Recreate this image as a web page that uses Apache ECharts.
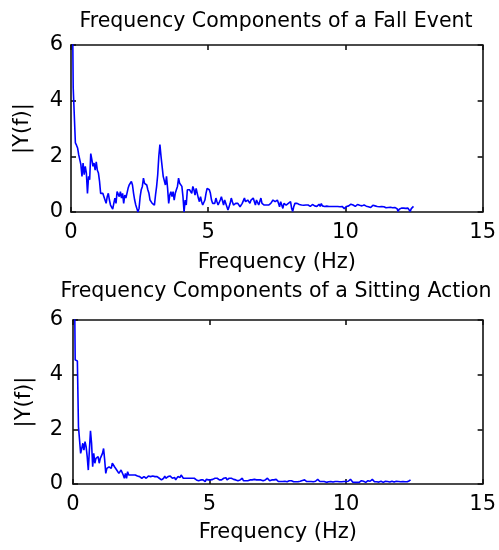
<!DOCTYPE html>
<html><head><meta charset="utf-8">
<script src="https://cdn.jsdelivr.net/npm/echarts@6/dist/echarts.min.js"></script>
<style>html,body{margin:0;padding:0;background:#fff}#c{width:499px;height:550px}</style>
</head><body><div id="c"></div>
<script>
const chartTitles = ['Frequency Components of a Fall Event', 'Frequency Components of a Sitting Action'];
const xAxisLabel = 'Frequency (Hz)';
const yAxisLabel = '|Y(f)|';
const xRange = [0, 15, 5];   // min, max, tick interval
const yRange = [0, 6, 2];
const freqStep = 0.04; // spacing of FFT bins (Hz)

const fallMagnitude = [
12, 9, 4.47, 4.47, 2.48, 2.4, 2.3, 2.06, 2.1, 1.7,
1.28, 1.76, 1.34, 1.64, 1.4, 0.67, 1.28, 1.16, 2.1, 1.88,
1.64, 1.76, 1.5, 1.8, 1.5, 1.4, 1.1, 0.67, 0.61, 0.67,
0.55, 0.5, 0.31, 0.55, 0.67, 0.43, 0.25, 0.19, 0.1, 0.31,
0.5, 0.31, 0.73, 0.67, 0.55, 0.73, 0.5, 0.67, 0.31, 0.61,
0.5, 0.55, 0.85, 0.97, 1.03, 1.1, 0.97, 0.67, 0.43, 0.25,
0.19, 0.0, 0.13, 0.55, 0.8, 0.92, 1.22, 1.03, 1.1, 0.97,
0.8, 0.67, 0.43, 0.37, 0.31, 0.25, 0.25, 0.61, 0.92, 1.34,
2.0, 2.42, 2.0, 1.94, 1.28, 1.22, 0.97, 1.28, 0.85, 0.31,
0.61, 0.73, 0.55, 0.73, 0.43, 0.67, 0.8, 0.92, 1.22, 1.03,
1.1, 0.92, 0.55, 0.0, 0.43, 0.25, 0.8, 0.73, 0.8, 0.85,
0.67, 0.92, 0.8, 0.61, 0.85, 0.67, 0.5, 0.37, 0.55, 0.37,
0.25, 0.19, 0.43, 0.67, 0.85, 0.92, 0.8, 0.67, 0.43, 0.31,
0.25, 0.31, 0.5, 0.37, 0.25, 0.31, 0.43, 0.55, 0.5, 0.25,
0.43, 0.37, 0.19, 0.07, 0.19, 0.31, 0.5, 0.37, 0.25, 0.19,
0.31, 0.37, 0.31, 0.25, 0.19, 0.25, 0.31, 0.37, 0.5, 0.37,
0.31, 0.43, 0.37, 0.31, 0.43, 0.37, 0.5, 0.43, 0.25, 0.43,
0.5, 0.25, 0.31, 0.5, 0.31, 0.25, 0.25, 0.25, 0.25, 0.25,
0.25, 0.25, 0.31, 0.31, 0.43, 0.5, 0.37, 0.43,
0.43, 0.31, 0.19, 0.37, 0.25, 0.13, 0.31, 0.37, 0.25, 0.19, 0.31, 0.25, 0.37,
0.13, 0.02, 0.2,
0.31, 0.33, 0.31, 0.28, 0.27, 0.28, 0.25, 0.25, 0.24, 0.25, 0.25, 0.26, 0.25, 0.22, 0.2, 0.24, 0.27, 0.25, 0.22,
0.25, 0.2, 0.22, 0.28, 0.2, 0.3, 0.22, 0.25, 0.2, 0.23, 0.21,
0.19, 0.2, 0.19, 0.2, 0.2, 0.2, 0.19, 0.2, 0.19, 0.2, 0.2, 0.19, 0.17, 0.2, 0.18, 0.12, 0.05,
0.2, 0.27, 0.22, 0.25, 0.28, 0.22, 0.25, 0.27, 0.2, 0.22, 0.27, 0.22, 0.24, 0.28, 0.22, 0.2, 0.25, 0.24, 0.21, 0.23,
0.19, 0.22, 0.16, 0.2, 0.24, 0.18, 0.22, 0.25, 0.2, 0.2, 0.19, 0.16, 0.2, 0.15, 0.19, 0.17, 0.15, 0.18, 0.16,
0.16, 0.17, 0.16, 0.15, 0.16, 0.16, 0.15, 0.12, 0.02,
0.1, 0.12, 0.14, 0.13, 0.14, 0.12, 0.13, 0.12, 0.14, 0.1, 0.02,
0.12, 0.18, 0.2
];

const sittingMagnitude = [
12, 9, 4.54, 4.54, 4.5, 2.1, 2.04, 1.12, 1.3, 1.49,
1.24, 1.55, 1.37, 1.0, 0.51, 1.24, 1.95, 1.49, 0.63, 1.12,
0.76, 0.94, 0.88, 1.0, 0.76, 0.94, 0.88, 1.12, 1.3, 0.88,
0.39,
0.57, 0.51, 0.63, 0.7, 0.57, 0.76, 0.7, 0.63, 0.57, 0.51, 0.45, 0.39, 0.45, 0.51, 0.45, 0.33, 0.21, 0.39, 0.21, 0.45, 0.33, 0.27, 0.33,
0.27, 0.33, 0.29, 0.33, 0.27, 0.29, 0.33, 0.27, 0.29, 0.21, 0.27, 0.27, 0.33, 0.21, 0.27, 0.29, 0.33, 0.27, 0.21, 0.29,
0.33, 0.27, 0.21, 0.27, 0.27, 0.21, 0.27, 0.15, 0.09, 0.21, 0.29, 0.21, 0.15, 0.27, 0.21, 0.29, 0.33, 0.21, 0.27, 0.24,
0.15, 0.21, 0.27, 0.29, 0.24, 0.33, 0.27, 0.21, 0.27, 0.21, 0.15, 0.21, 0.15, 0.21, 0.15, 0.21, 0.27, 0.21, 0.17, 0.15,
0.15, 0.12, 0.17, 0.15, 0.12, 0.15, 0.15, 0.09, 0.17, 0.21, 0.15, 0.17, 0.15, 0.21, 0.17, 0.15, 0.21, 0.27, 0.21, 0.27,
0.15, 0.09, 0.15, 0.21, 0.21, 0.27, 0.23, 0.15, 0.12, 0.21, 0.15, 0.21, 0.15, 0.17, 0.21, 0.15, 0.21, 0.12, 0.15, 0.15,
0.17, 0.21, 0.12, 0.09, 0.12, 0.15, 0.12, 0.15, 0.15, 0.17, 0.15, 0.15, 0.17, 0.15, 0.15, 0.12, 0.15, 0.17, 0.15, 0.15,
0.12, 0.09, 0.15, 0.17, 0.21, 0.15, 0.12, 0.15, 0.15, 0.17, 0.15, 0.15,
0.17, 0.12, 0.09, 0.08, 0.09, 0.08, 0.09, 0.08, 0.1, 0.09, 0.08, 0.09,
0.12, 0.15, 0.12, 0.09, 0.08, 0.09, 0.08, 0.09,
0.08, 0.09, 0.1, 0.09, 0.13, 0.17, 0.15, 0.12, 0.09, 0.08,
0.09, 0.08, 0.09, 0.09, 0.08, 0.09, 0.1, 0.13, 0.17, 0.12,
0.09, 0.08, 0.09, 0.06, 0.09, 0.08, 0.06, 0.09, 0.08, 0.06, 0.09, 0.08,
0.07, 0.05, 0.09, 0.08, 0.09, 0.09, 0.08, 0.09, 0.08, 0.09, 0.09, 0.08, 0.09, 0.09, 0.1,
0.13, 0.17, 0.12, 0.07, 0.05, 0.06, 0.05, 0.06, 0.05, 0.06,
0.09, 0.12, 0.07, 0.1, 0.12, 0.06, 0.09, 0.12, 0.07, 0.1, 0.13, 0.17, 0.12, 0.08, 0.09,
0.08, 0.1, 0.07, 0.09, 0.1, 0.08, 0.06, 0.09, 0.1, 0.08, 0.09, 0.1, 0.07, 0.09, 0.1, 0.08,
0.07, 0.09, 0.1, 0.08, 0.09, 0.1, 0.08, 0.06, 0.09, 0.1, 0.08, 0.1, 0.08, 0.09, 0.12, 0.15
];

const FONT = 'DejaVu Sans';
const FS = 21;
const txt = {fontFamily: FONT, fontSize: FS, color: '#000'};
const axLine = {color: '#111', width: 1.6};
const grids = [
  {left: 71, right: 12, top: 45, height: 167},
  {left: 73, right: 15, top: 320, height: 164}
];
const xAxes = [], yAxes = [];
grids.forEach((g, gi) => {
  const common = {type: 'value', gridIndex: gi, splitLine: {show: false},
    axisLine: {show: true, onZero: false, lineStyle: axLine},
    axisTick: {show: true, inside: true, length: 5, lineStyle: axLine}};
  xAxes.push(Object.assign({}, common, {position: 'bottom', min: xRange[0], max: xRange[1], interval: xRange[2],
    axisLabel: Object.assign({margin: 10}, txt),
    name: xAxisLabel, nameLocation: 'middle', nameGap: gi === 0 ? 40 : 38, nameTextStyle: txt}));
  xAxes.push(Object.assign({}, common, {position: 'top', min: xRange[0], max: xRange[1], interval: xRange[2],
    axisLabel: {show: false}}));
  yAxes.push(Object.assign({}, common, {position: 'left', min: yRange[0], max: yRange[1], interval: yRange[2],
    axisLabel: Object.assign({margin: gi === 0 ? 8 : 10}, txt),
    name: yAxisLabel, nameLocation: 'middle', nameRotate: 90, nameGap: 38, nameTextStyle: txt}));
  yAxes.push(Object.assign({}, common, {position: 'right', min: yRange[0], max: yRange[1], interval: yRange[2],
    axisLabel: {show: false}}));
});
const toPoints = arr => arr.map((v, i) => [i * freqStep, v]);
const chart = echarts.init(document.getElementById('c'), null, {renderer: 'canvas'});
const titleFont = '20.5px "DejaVu Sans"';
chart.setOption({
  animation: false,
  backgroundColor: '#fff',
  grid: grids,
  xAxis: xAxes,
  yAxis: yAxes,
  graphic: [
    {type: 'text', x: 276, y: 22, style: {text: chartTitles[0], font: titleFont, textAlign: 'center', textVerticalAlign: 'middle', fill: '#000'}},
    {type: 'text', x: 276, y: 292, style: {text: chartTitles[1], font: titleFont, textAlign: 'center', textVerticalAlign: 'middle', fill: '#000'}}
  ],
  series: [
    {type: 'line', xAxisIndex: 0, yAxisIndex: 0, data: toPoints(fallMagnitude), showSymbol: false, clip: true,
      lineStyle: {color: '#0000ff', width: 1.6}},
    {type: 'line', xAxisIndex: 2, yAxisIndex: 2, data: toPoints(sittingMagnitude), showSymbol: false, clip: true,
      lineStyle: {color: '#0000ff', width: 1.6}}
  ]
});
</script>
</body></html>
